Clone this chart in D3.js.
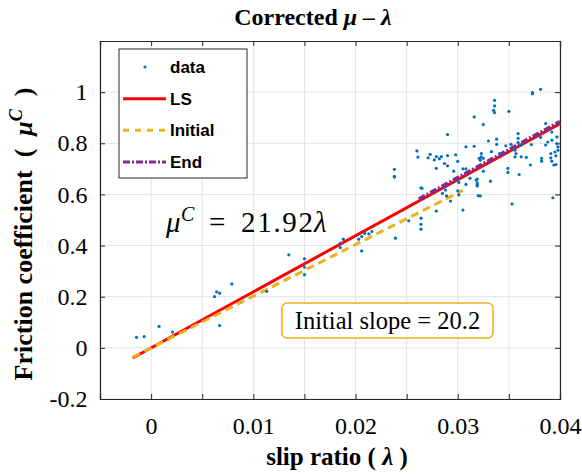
<!DOCTYPE html>
<html>
<head>
<meta charset="utf-8">
<script src="https://cdn.jsdelivr.net/npm/d3@7"></script>
<style>
  body { margin: 0; background: #fff; }
  svg { display: block; }
</style>
</head>
<body>
<svg width="582" height="474"></svg>
<script>
"use strict";
// slip ratio of each sample
var slipData = [
  -0.00143, -0.00068, 0.00078, 0.0021, 0.0062, 0.0064, 0.0067, 0.0067, 0.0079, 0.0113,
  0.01347, 0.0150, 0.0150, 0.0150, 0.0185, 0.0185, 0.0188, 0.0203, 0.0206, 0.0206,
  0.0209, 0.0213, 0.0216, 0.0239, 0.0252, 0.0238, 0.0238, 0.0238, 0.0264, 0.0264,
  0.0264, 0.0264, 0.0265, 0.0279, 0.0296, 0.0288, 0.0285, 0.0289, 0.0293, 0.0300,
  0.0301, 0.0305, 0.0308, 0.0312, 0.0318, 0.0319, 0.0320, 0.0301, 0.0316, 0.0290,
  0.0308, 0.0316, 0.0260, 0.0261, 0.0271, 0.0273, 0.0279, 0.0290, 0.0298, 0.0300,
  0.0287, 0.0290, 0.0279, 0.0308, 0.0321, 0.0373, 0.0373, 0.0381, 0.0336, 0.0336,
  0.0335, 0.0336, 0.0350, 0.0325, 0.0386, 0.0359, 0.0359, 0.0359, 0.0338, 0.0330,
  0.0338, 0.0347, 0.0352, 0.0362, 0.0372, 0.0381, 0.0392, 0.0397, 0.0386, 0.0388,
  0.0392, 0.0397, 0.0398, 0.0398, 0.0395, 0.0391, 0.0396, 0.0391, 0.0392, 0.0394,
  0.0396, 0.0323, 0.0323, 0.0325, 0.0322, 0.0356, 0.0357, 0.0362, 0.0367, 0.0356,
  0.0349, 0.0349, 0.0360, 0.0382, 0.0382, 0.0371, 0.0333, 0.0341, 0.0325, 0.0319,
  0.0332, 0.0322, 0.0353, 0.0393, 0.0319, 0.0319, 0.0305, 0.0282, 0.0277, 0.0284
];
// friction coefficient of each sample
var muData = [
  0.041, 0.044, 0.084, 0.062, 0.200, 0.219, 0.214, 0.087, 0.250, 0.221,
  0.364, 0.348, 0.316, 0.286, 0.392, 0.409, 0.425, 0.425, 0.379, 0.435,
  0.448, 0.446, 0.455, 0.429, 0.497, 0.671, 0.698, 0.668, 0.626, 0.507,
  0.483, 0.464, 0.624, 0.535, 0.691, 0.617, 0.604, 0.594, 0.574, 0.614,
  0.598, 0.539, 0.639, 0.663, 0.656, 0.637, 0.595, 0.647, 0.903, 0.834,
  0.786, 0.788, 0.770, 0.746, 0.743, 0.757, 0.748, 0.752, 0.755, 0.729,
  0.721, 0.712, 0.702, 0.700, 0.741, 0.994, 0.998, 1.011, 0.968, 0.946,
  0.929, 0.920, 0.925, 0.873, 0.877, 0.838, 0.819, 0.803, 0.816, 0.809,
  0.796, 0.790, 0.796, 0.793, 0.795, 0.823, 0.844, 0.825, 0.793, 0.805,
  0.812, 0.799, 0.786, 0.773, 0.766, 0.760, 0.751, 0.743, 0.730, 0.715,
  0.717, 0.760, 0.747, 0.741, 0.734, 0.773, 0.760, 0.747, 0.745, 0.747,
  0.702, 0.686, 0.678, 0.741, 0.730, 0.715, 0.767, 0.760, 0.691, 0.633,
  0.652, 0.594, 0.563, 0.587, 0.660, 0.645, 0.700, 0.740, 0.735, 0.748
];
// fitted lines: slope and endpoints in slip ratio
var lsSlope = 21.92;
var lsRange = [-0.0018, 0.04];
var initialSlope = 20.2;
var initialRange = [-0.0018, 0.0305];
var endSlope = 21.92;
var endOffset = 0.007;
var endRange = [0.0262, 0.04];

var xTicks = [-0.005, 0, 0.005, 0.01, 0.015, 0.02, 0.025, 0.03, 0.035, 0.04];
var xTickLabels = ["", "0", "", "0.01", "", "0.02", "", "0.03", "", "0.04"];
var yTicks = [-0.2, 0, 0.2, 0.4, 0.6, 0.8, 1];
var yTickLabels = ["-0.2", "0", "0.2", "0.4", "0.6", "0.8", "1"];
var legendNames = ["data", "LS", "Initial", "End"];

var margin = { left: 100, right: 22, top: 41, bottom: 75 };
var width = 582, height = 474;

var svg = d3.select("svg");
var x = d3.scaleLinear().domain([-0.005, 0.04]).range([margin.left, width - margin.right]);
var y = d3.scaleLinear().domain([-0.2, 1.2]).range([height - margin.bottom, margin.top]);

var serif = "'Liberation Serif', 'Times New Roman', serif";
var sans = "'Liberation Sans', Arial, sans-serif";

// GRID
svg.append("g").selectAll("line.gx")
    .data(xTicks)
    .enter().append("line")
    .attr("x1", function (d) { return x(d); })
    .attr("x2", function (d) { return x(d); })
    .attr("y1", y(-0.2)).attr("y2", y(1.2))
    .attr("stroke", "#e3e3e3").attr("stroke-width", 1);
svg.append("g").selectAll("line.gy")
    .data(yTicks)
    .enter().append("line")
    .attr("y1", function (d) { return y(d); })
    .attr("y2", function (d) { return y(d); })
    .attr("x1", x(-0.005)).attr("x2", x(0.04))
    .attr("stroke", "#e3e3e3").attr("stroke-width", 1);

// AXES (ticks pointing inward, box on)
var bottomAxis = d3.axisBottom(x).tickValues(xTicks).tickSize(-5)
    .tickFormat(function (d, i) { return xTickLabels[i]; });
var topAxis = d3.axisTop(x).tickValues(xTicks).tickSize(-5).tickFormat("");
var leftAxis = d3.axisLeft(y).tickValues(yTicks).tickSize(-5)
    .tickFormat(function (d, i) { return yTickLabels[i]; });
var rightAxis = d3.axisRight(y).tickValues(yTicks).tickSize(-5).tickFormat("");

function styleAxis(g) {
    g.select(".domain").attr("stroke", "#262626").attr("stroke-width", 1.2);
    g.selectAll(".tick line").attr("stroke", "#262626").attr("stroke-width", 1);
    g.selectAll("text").attr("font-family", serif).attr("font-size", 24).attr("fill", "#000");
}
svg.append("g").attr("transform", "translate(0," + y(-0.2) + ")").call(bottomAxis).call(styleAxis)
    .selectAll("text").attr("dy", "1.35em");
svg.append("g").attr("transform", "translate(0," + y(1.2) + ")").call(topAxis).call(styleAxis);
svg.append("g").attr("transform", "translate(" + x(-0.005) + ",0)").call(leftAxis).call(styleAxis)
    .selectAll("text").attr("dx", "-0.4em");
svg.append("g").attr("transform", "translate(" + x(0.04) + ",0)").call(rightAxis).call(styleAxis);
svg.selectAll(".domain").attr("fill", "none");

// LINES
var line = d3.line()
    .x(function (d) { return x(d[0]); })
    .y(function (d) { return y(d[1]); });

svg.append("path")
    .datum(lsRange.map(function (s) { return [s, lsSlope * s]; }))
    .attr("d", line).attr("fill", "none")
    .attr("stroke", "#ff0000").attr("stroke-width", 3);
svg.append("path")
    .datum(initialRange.map(function (s) { return [s, initialSlope * s]; }))
    .attr("d", line).attr("fill", "none")
    .attr("stroke", "#EDB120").attr("stroke-width", 3)
    .attr("stroke-dasharray", "8,5");
svg.append("path")
    .datum(endRange.map(function (s) { return [s, endSlope * s + endOffset]; }))
    .attr("d", line).attr("fill", "none")
    .attr("stroke", "#7E2F8E").attr("stroke-width", 4)
    .attr("stroke-dasharray", "7,2,2,2");

// DATA
svg.append("g").selectAll("circle")
    .data(slipData.map(function (s, i) { return [s, muData[i]]; }))
    .enter().append("circle")
    .attr("cx", function (d) { return x(d[0]); })
    .attr("cy", function (d) { return y(d[1]); })
    .attr("r", 1.6)
    .attr("fill", "#0072BD");

// LEGEND
var legend = svg.append("g").attr("transform", "translate(119,49)");
legend.append("rect").attr("width", 128).attr("height", 129)
    .attr("fill", "#fff").attr("stroke", "#262626").attr("stroke-width", 1);
var rowY = d3.scalePoint().domain(legendNames).range([18, 113]);
legend.append("circle").attr("cx", 26).attr("cy", rowY("data")).attr("r", 1.6).attr("fill", "#0072BD");
legend.append("line").attr("x1", 4).attr("x2", 47).attr("y1", rowY("LS")).attr("y2", rowY("LS"))
    .attr("stroke", "#ff0000").attr("stroke-width", 3);
legend.append("line").attr("x1", 4).attr("x2", 47).attr("y1", rowY("Initial")).attr("y2", rowY("Initial"))
    .attr("stroke", "#EDB120").attr("stroke-width", 3).attr("stroke-dasharray", "6,6");
legend.append("line").attr("x1", 4).attr("x2", 47).attr("y1", rowY("End")).attr("y2", rowY("End"))
    .attr("stroke", "#7E2F8E").attr("stroke-width", 3).attr("stroke-dasharray", "7,2,2,2");
legend.selectAll("text")
    .data(legendNames)
    .enter().append("text")
    .attr("x", 51)
    .attr("y", function (d) { return rowY(d); })
    .attr("dy", "0.35em")
    .attr("font-family", sans).attr("font-weight", "bold").attr("font-size", 17)
    .text(function (d) { return d; });

// TITLE AND AXIS LABELS
var title = svg.append("text").attr("x", 313).attr("y", 25).attr("text-anchor", "middle")
    .attr("font-family", serif).attr("font-weight", "bold").attr("font-size", 24);
title.append("tspan").text("Corrected ");
title.append("tspan").attr("font-style", "italic").text("\u03bc \u2013 \u03bb");

var xl = svg.append("text").attr("x", 337).attr("y", 465).attr("text-anchor", "middle")
    .attr("font-family", serif).attr("font-weight", "bold").attr("font-size", 25);
xl.append("tspan").text("slip ratio ( ");
xl.append("tspan").attr("font-style", "italic").text("\u03bb");
xl.append("tspan").text(" )");

var yl = svg.append("text").attr("transform", "translate(32,234) rotate(-90)").attr("text-anchor", "middle")
    .attr("font-family", serif).attr("font-weight", "bold").attr("font-size", 26);
yl.append("tspan").text("Friction coefficient\u2002(\u2002");
yl.append("tspan").attr("font-style", "italic").text("\u03bc");
yl.append("tspan").attr("font-style", "italic").attr("dy", -10).attr("font-size", 18).text("C");
yl.append("tspan").attr("dy", 10).text("\u2002)");

// EQUATION
var eq = svg.append("g").attr("font-family", serif).attr("font-size", 29);
eq.append("text").attr("x", 166).attr("y", 232).attr("font-style", "italic").text("\u03bc");
eq.append("text").attr("x", 181).attr("y", 221).attr("font-style", "italic").attr("font-size", 20).text("C");
eq.append("text").attr("x", 209).attr("y", 232).text("=");
eq.append("text").attr("x", 241).attr("y", 232).attr("textLength", 72).text("21.92");
eq.append("text").attr("x", 314).attr("y", 232).attr("font-style", "italic").text("\u03bb");

// ANNOTATION BOX
svg.append("rect").attr("x", 282).attr("y", 303).attr("width", 211).attr("height", 35)
    .attr("rx", 5).attr("fill", "#fff")
    .attr("stroke", "#EDB120").attr("stroke-width", 1.5);
svg.append("text").attr("x", 387.5).attr("y", 328.5).attr("text-anchor", "middle")
    .attr("font-family", serif).attr("font-size", 24.5)
    .text("Initial slope = 20.2");
</script>
</body>
</html>
